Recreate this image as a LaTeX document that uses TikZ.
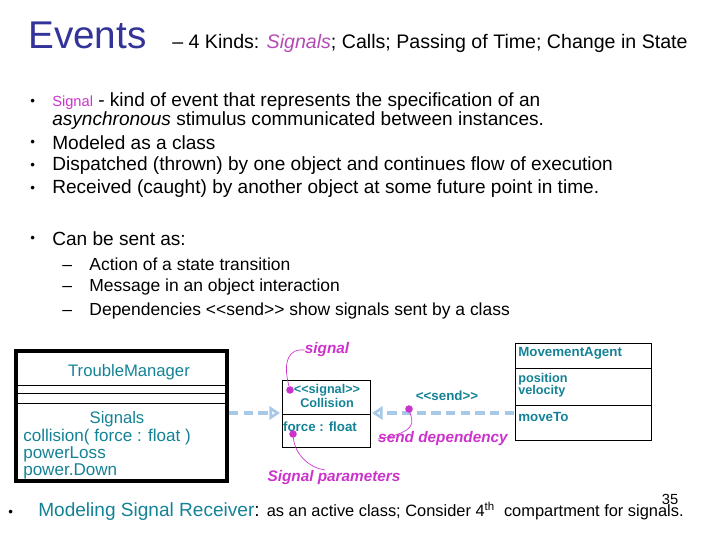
\documentclass[tikz,border=0pt]{standalone}
\usepackage{fontspec}
\setmainfont{Liberation Sans}
\usetikzlibrary{arrows.meta}
\definecolor{navy}{RGB}{51,51,153}
\definecolor{teal2}{RGB}{20,130,150}
\definecolor{mag}{RGB}{204,51,204}
\definecolor{lb}{RGB}{168,200,232}
\begin{document}
\begin{tikzpicture}[x=0.75pt,y=-0.75pt,
  txt/.style={anchor=west,inner sep=0pt,font=\fontsize{14.3}{16}\selectfont},
  bul/.style={anchor=west,inner sep=0pt,font=\fontsize{10}{12}\selectfont},
  sm/.style={inner sep=0pt,font=\fontsize{10}{11}\selectfont\bfseries,text=teal2},
  ann/.style={inner sep=0pt,font=\fontsize{11.5}{13}\selectfont\bfseries\itshape,text=mag},
  dep/.style={lb,line width=2.5pt,dash pattern=on 7pt off 4pt,-{Triangle[open,length=8pt,width=10pt]}},
  callout/.style={mag,line width=0.5pt},
  dotm/.style={circle,fill=mag,inner sep=2pt}]
\useasboundingbox (0,0) rectangle (720,540);
\node[anchor=base west,inner sep=0pt,text=navy,font=\fontsize{29}{32}\selectfont] (title) at (28,48) {Events};
\node[anchor=base west,inner sep=0pt,font=\fontsize{14.7}{16}\selectfont] (sub) at (172,48) {-- 4 Kinds: \textcolor{mag!70!gray}{\itshape Signals}; Calls; Passing of Time; Change in State};
\node[bul] (b0) at (30,102) {•};
\node[txt] (l1) at (52,102) {\textcolor{mag}{\fontsize{11}{13}\selectfont Signal} - kind of event that represents the specification of an};
\node[txt] (l2) at (52,121) {\itshape asynchronous \upshape stimulus communicated between instances.};
\node[bul] (b1) at (30,143) {•};
\node[txt] (l3) at (52,143) {Modeled as a class};
\node[bul] (b2) at (30,166) {•};
\node[txt] (l4) at (52,166) {Dispatched (thrown) by one object and continues flow of execution};
\node[bul] (b3) at (30,189) {•};
\node[txt] (l5) at (52,189) {Received (caught) by another object at some future point in time.};
\node[bul] (b4) at (30,239) {•};
\node[txt] (l6) at (52,239) {Can be sent as:};
\node[txt,font=\fontsize{13.1}{15}\selectfont] (s1) at (62,264) {--\quad Action of a state transition};
\node[txt,font=\fontsize{13.1}{15}\selectfont] (s2) at (62,287) {--\quad Message in an object interaction};
\node[txt,font=\fontsize{13.1}{15}\selectfont] (s3) at (62,311) {--\quad Dependencies <{}<send>{}> show signals sent by a class};
% TroubleManager
\draw[line width=2.5pt] (16,351) rectangle (227,481);
\draw[line width=0.7pt] (16,385) -- (227,385) (16,393) -- (227,393) (16,403) -- (227,403);
\node[inner sep=0pt,font=\fontsize{12.5}{14}\selectfont,text=teal2] (tm) at (129,372) {TroubleManager};
\node[inner sep=0pt,font=\fontsize{12.5}{14}\selectfont,text=teal2] (sg) at (117,419) {Signals};
\node[anchor=west,inner sep=0pt,align=left,font=\fontsize{12.8}{12.75}\selectfont,text=teal2] (ops) at (23,454) {collision( force : float )\\powerLoss\\power.Down};
% Collision
\draw[line width=0.6pt] (282,380) rectangle (370,447);
\draw[line width=0.6pt] (282,414) -- (370,414);
\node[sm,align=center,font=\fontsize{9.5}{10.5}\selectfont\bfseries] (col) at (327,396) {<{}<signal>{}>\\Collision};
\node[sm] (ff) at (320,427) {force : float};
% MovementAgent
\draw[line width=0.6pt] (515,343) rectangle (651,440);
\draw[line width=0.6pt] (515,368) -- (651,368) (515,405) -- (651,405);
\node[sm,anchor=west] (ma) at (518,353) {MovementAgent};
\node[sm,anchor=west,align=left,font=\fontsize{9.5}{9}\selectfont\bfseries] (pv) at (518,385) {position\\velocity};
\node[sm,anchor=west] (mt) at (518,417) {moveTo};
% arrows
\coordinate (tmR) at (229,413);
\coordinate (colL) at (280,413);
\coordinate (colR) at (372,413);
\coordinate (maL) at (514,413);
\draw[dep] (tmR) -- (colL);
\draw[dep] (maL) -- (colR);
\node[sm] (send) at (447,396) {<{}<send>{}>};
% annotations
\node[ann] (asig) at (327,350) {signal};
\node[ann] (asp) at (334,478) {Signal parameters};
\node[ann] (asd) at (443,439) {send dependency};
\node[dotm] (d1) at (290,390) {};
\node[dotm] (d2) at (293,434) {};
\node[dotm] (d3) at (409,409) {};
\draw[callout] (d1) .. controls (282,360) and (290,348) .. (asig.west);
\draw[callout] (d2) .. controls (295,455) and (310,468) .. (325,470);
\draw[callout] (d3) .. controls (412,420) and (420,432) .. (asd.west);
\node[bul] (b5) at (8,513) {•};
\node[txt,font=\fontsize{14.3}{15}\selectfont] (last) at (38,511) {\textcolor{teal2}{Modeling Signal Receiver}: {\fontsize{12.3}{13}\selectfont as an active class; Consider 4\textsuperscript{th}\ \ compartment for signals.}};
\node[inner sep=0pt,font=\fontsize{11}{13}\selectfont] (pg) at (670,499) {35};
\end{tikzpicture}
\end{document}
